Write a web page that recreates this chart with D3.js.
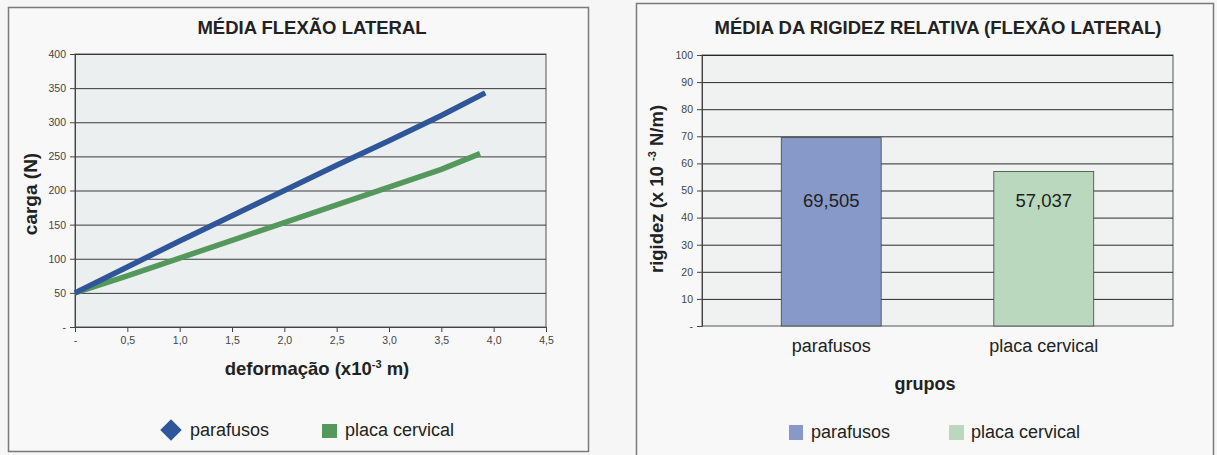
<!DOCTYPE html>
<html>
<head>
<meta charset="utf-8">
<script src="https://cdn.jsdelivr.net/npm/d3@7"></script>
<style>
  html, body { margin: 0; padding: 0; background: #f6f6f6; }
  svg { display: block; font-family: "Liberation Sans", Arial, sans-serif; }
</style>
</head>
<body>
<svg id="chart" width="1217" height="455"></svg>
<script>
// ---- Lateral flexion: load vs. deformation ----
const defTicks = [0, 0.5, 1.0, 1.5, 2.0, 2.5, 3.0, 3.5, 4.0, 4.5];
const loadTicks = [0, 50, 100, 150, 200, 250, 300, 350, 400];
const parafusosDef = [0, 0.5, 1.0, 1.5, 2.0, 2.5, 3.0, 3.5, 3.92];
const parafusosLoad = [50, 88, 126, 163, 200, 237, 273, 310, 343];
const placaDef = [0, 0.5, 1.0, 1.5, 2.0, 2.5, 3.0, 3.5, 3.87];
const placaLoad = [50, 75, 101, 127, 153, 179, 205, 231, 254];

// ---- Relative stiffness ----
const grupos = ["parafusos", "placa cervical"];
const rigidez = [69.505, 57.037];
const rigidezLabels = ["69,505", "57,037"];
const rigidezTicks = [0, 10, 20, 30, 40, 50, 60, 70, 80, 90, 100];

const BLUE = "#30569a", GREEN = "#55985c";
const BAR_BLUE = "#8799c9", BAR_GREEN = "#bad8bd";

const svg = d3.select("#chart");
const fmt = v => v === 0 ? "-" : d3.format(".1f")(v).replace(".", ",");

function styleAxis(a) {
  a.select(".domain").attr("stroke", "#444");
  a.selectAll(".tick line").attr("stroke", "#444");
  a.selectAll(".tick text").attr("fill", "#444").attr("font-size", 10.5)
    .attr("font-family", "Liberation Sans, Arial, sans-serif");
}

// ================= left panel =================
const L = svg.append("g");
L.append("rect").attr("x", 8.5).attr("y", 7.5).attr("width", 580).attr("height", 444)
  .attr("fill", "#f8f8f8").attr("stroke", "#7a7a7a").attr("stroke-width", 1.5);

const x = d3.scaleLinear().domain([0, 4.5]).range([75, 546]);
const y = d3.scaleLinear().domain([0, 400]).range([327, 54]);

L.append("rect").attr("x", x(0)).attr("y", y(400))
  .attr("width", x(4.5) - x(0)).attr("height", y(0) - y(400))
  .attr("fill", "#eceff0").attr("stroke", "#555").attr("stroke-width", 1);

L.append("g").selectAll("line").data(loadTicks.filter(d => d > 0)).join("line")
  .attr("x1", x(0)).attr("x2", x(4.5)).attr("y1", d => y(d) + 0.5).attr("y2", d => y(d) + 0.5)
  .attr("stroke", "#3a3a3a").attr("stroke-width", 1);

styleAxis(L.append("g").attr("transform", `translate(${x(0)},0)`)
  .call(d3.axisLeft(y).tickValues(loadTicks).tickSize(5).tickPadding(4)
    .tickFormat(d => d === 0 ? "-" : d)));
styleAxis(L.append("g").attr("transform", `translate(0,${y(0)})`)
  .call(d3.axisBottom(x).tickValues(defTicks).tickSize(5).tickPadding(5).tickFormat(fmt)));

const line = d3.line().x(d => x(d[0])).y(d => y(d[1]));
L.append("path").datum(d3.zip(placaDef, placaLoad)).attr("d", line)
  .attr("fill", "none").attr("stroke", GREEN).attr("stroke-width", 5.5);
L.append("path").datum(d3.zip(parafusosDef, parafusosLoad)).attr("d", line)
  .attr("fill", "none").attr("stroke", BLUE).attr("stroke-width", 5.5);

L.append("text").attr("x", 312).attr("y", 34).attr("text-anchor", "middle")
  .attr("font-weight", "bold").attr("font-size", 18.5).attr("fill", "#222")
  .text("MÉDIA FLEXÃO LATERAL");
L.append("text").attr("transform", "translate(37,194) rotate(-90)").attr("text-anchor", "middle")
  .attr("font-weight", "bold").attr("font-size", 19).attr("fill", "#222").text("carga (N)");
const xt = L.append("text").attr("x", 317).attr("y", 375).attr("text-anchor", "middle")
  .attr("font-weight", "bold").attr("font-size", 18.5).attr("fill", "#222");
xt.append("tspan").text("deformação (x10");
xt.append("tspan").attr("font-size", 11).attr("dy", -7).text("-3");
xt.append("tspan").attr("dy", 7).text(" m)");

// legend
L.append("path").attr("d", d3.symbol(d3.symbolSquare, 230)())
  .attr("transform", "translate(171,430) rotate(45)").attr("fill", BLUE);
L.append("text").attr("x", 190).attr("y", 436).attr("font-size", 18).attr("fill", "#222").text("parafusos");
L.append("rect").attr("x", 322).attr("y", 424).attr("width", 15).attr("height", 14).attr("fill", GREEN);
L.append("text").attr("x", 345).attr("y", 436).attr("font-size", 18).attr("fill", "#222").text("placa cervical");

// ================= right panel =================
const R = svg.append("g");
R.append("rect").attr("x", 636.5).attr("y", 3.5).attr("width", 577).attr("height", 460)
  .attr("fill", "#f8f8f8").attr("stroke", "#7a7a7a").attr("stroke-width", 1.5);

const xb = d3.scaleBand().domain(grupos).range([702, 1173]).paddingInner(0.53).paddingOuter(0.373);
const yb = d3.scaleLinear().domain([0, 100]).range([326, 55]);

R.append("rect").attr("x", 702).attr("y", yb(100)).attr("width", 1173 - 702).attr("height", yb(0) - yb(100))
  .attr("fill", "#f0f1f1").attr("stroke", "#555").attr("stroke-width", 1);
R.append("g").selectAll("line").data(rigidezTicks.filter(d => d > 0)).join("line")
  .attr("x1", 702).attr("x2", 1173).attr("y1", d => yb(d) + 0.5).attr("y2", d => yb(d) + 0.5)
  .attr("stroke", "#2a2a2a").attr("stroke-width", 1);

styleAxis(R.append("g").attr("transform", "translate(702,0)")
  .call(d3.axisLeft(yb).tickValues(rigidezTicks).tickSize(5).tickPadding(4)
    .tickFormat(d => d === 0 ? "-" : d)));

R.append("g").selectAll("rect").data(grupos).join("rect")
  .attr("x", d => xb(d)).attr("width", xb.bandwidth())
  .attr("y", (d, i) => yb(rigidez[i])).attr("height", (d, i) => yb(0) - yb(rigidez[i]))
  .attr("fill", (d, i) => i === 0 ? BAR_BLUE : BAR_GREEN)
  .attr("stroke", "#444").attr("stroke-width", 0.8);

R.append("g").selectAll("text").data(grupos).join("text")
  .attr("x", d => xb(d) + xb.bandwidth() / 2).attr("y", yb(44))
  .attr("text-anchor", "middle").attr("font-size", 18.5).attr("fill", "#1e1e1e")
  .text((d, i) => rigidezLabels[i]);

R.append("g").selectAll("text").data(grupos).join("text")
  .attr("x", d => xb(d) + xb.bandwidth() / 2).attr("y", 352)
  .attr("text-anchor", "middle").attr("font-size", 18).attr("fill", "#222").text(d => d);

R.append("text").attr("x", 938).attr("y", 34).attr("text-anchor", "middle")
  .attr("font-weight", "bold").attr("font-size", 18.5).attr("fill", "#222")
  .text("MÉDIA DA RIGIDEZ RELATIVA (FLEXÃO LATERAL)");
R.append("text").attr("x", 925).attr("y", 390).attr("text-anchor", "middle")
  .attr("font-weight", "bold").attr("font-size", 18).attr("fill", "#222").text("grupos");
const yt = R.append("text").attr("transform", "translate(663,189) rotate(-90)")
  .attr("text-anchor", "middle").attr("font-weight", "bold").attr("font-size", 18.5).attr("fill", "#222");
yt.append("tspan").text("rigidez (x 10 ");
yt.append("tspan").attr("font-size", 11).attr("dy", -7).text("-3");
yt.append("tspan").attr("dy", 7).text(" N/m)");

R.append("rect").attr("x", 789).attr("y", 425).attr("width", 14).attr("height", 15).attr("fill", BAR_BLUE);
R.append("text").attr("x", 811).attr("y", 438).attr("font-size", 18).attr("fill", "#222").text("parafusos");
R.append("rect").attr("x", 949).attr("y", 425).attr("width", 15).attr("height", 15).attr("fill", BAR_GREEN);
R.append("text").attr("x", 971).attr("y", 438).attr("font-size", 18).attr("fill", "#222").text("placa cervical");
</script>
</body>
</html>
